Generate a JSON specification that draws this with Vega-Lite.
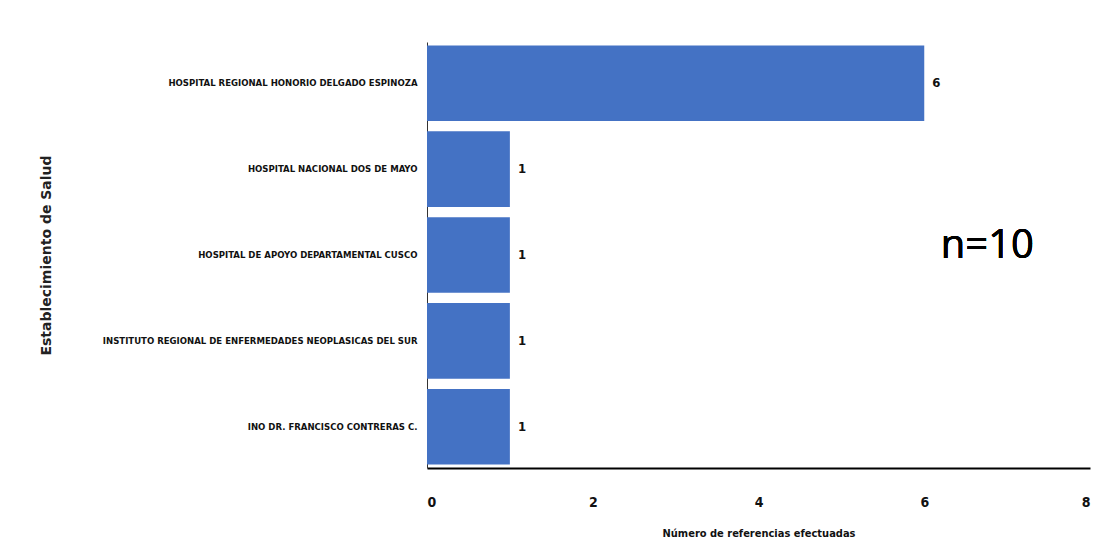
{
  "$schema": "https://vega.github.io/schema/vega-lite/v6.json",
  "autosize": "none",
  "width": 663,
  "height": 426,
  "padding": {"left": 427, "top": 42, "right": 22, "bottom": 85},
  "background": "white",
  "config": {"view": {"stroke": null}, "font": "DejaVu Sans Condensed"},
  "data": {"values": [
    {"establecimiento": "HOSPITAL REGIONAL HONORIO DELGADO ESPINOZA", "n": 6},
    {"establecimiento": "HOSPITAL NACIONAL  DOS DE MAYO", "n": 1},
    {"establecimiento": "HOSPITAL DE APOYO DEPARTAMENTAL CUSCO", "n": 1},
    {"establecimiento": "INSTITUTO REGIONAL DE ENFERMEDADES NEOPLASICAS DEL SUR", "n": 1},
    {"establecimiento": "INO DR. FRANCISCO CONTRERAS C.", "n": 1}
  ]},
  "encoding": {
    "y": {
      "field": "establecimiento", "type": "nominal", "sort": null,
      "scale": {"paddingInner": 0.12, "paddingOuter": 0.04},
      "axis": {
        "title": "Establecimiento de Salud",
        "titleFont": "DejaVu Sans", "titleFontWeight": "bold", "titleFontSize": 14,
        "titleColor": "#222", "titleX": -381, "titleY": 213, "titleAngle": -90,
        "titleAnchor": "middle", "titleBaseline": "middle",
        "labelFont": "DejaVu Sans Condensed", "labelFontWeight": "bold", "labelFontSize": 9.5,
        "labelColor": "#111", "labelPadding": 10, "labelLimit": 400,
        "ticks": false, "domainColor": "#333", "domainWidth": 1
      }
    },
    "x": {
      "field": "n", "type": "quantitative",
      "scale": {"domain": [0, 8], "nice": false},
      "axis": {
        "title": "Número de referencias efectuadas",
        "titleFont": "DejaVu Sans Condensed", "titleFontWeight": "bold", "titleFontSize": 11,
        "titleColor": "#111", "titlePadding": 18,
        "labelFont": "DejaVu Sans Condensed", "labelFontWeight": "bold", "labelFontSize": 14,
        "labelColor": "#111", "labelPadding": 27, "values": [0, 2, 4, 6, 8],
        "ticks": false, "grid": false, "domainColor": "#000", "domainWidth": 2
      }
    }
  },
  "layer": [
    {"mark": {"type": "bar", "color": "#4472C4"}},
    {"mark": {"type": "text", "align": "left", "dx": 8, "font": "DejaVu Sans Condensed", "fontWeight": "bold", "fontSize": 13, "color": "#111"},
     "encoding": {"text": {"field": "n", "type": "quantitative"}}},
    {"mark": {"type": "text", "align": "left", "baseline": "middle", "dy": -9, "font": "Open Sans", "fontSize": 40, "color": "#000"},
     "encoding": {
       "x": {"datum": 6.2},
       "y": {"datum": "HOSPITAL DE APOYO DEPARTAMENTAL CUSCO"},
       "text": {"value": "n=10"}
     }}
  ]
}
